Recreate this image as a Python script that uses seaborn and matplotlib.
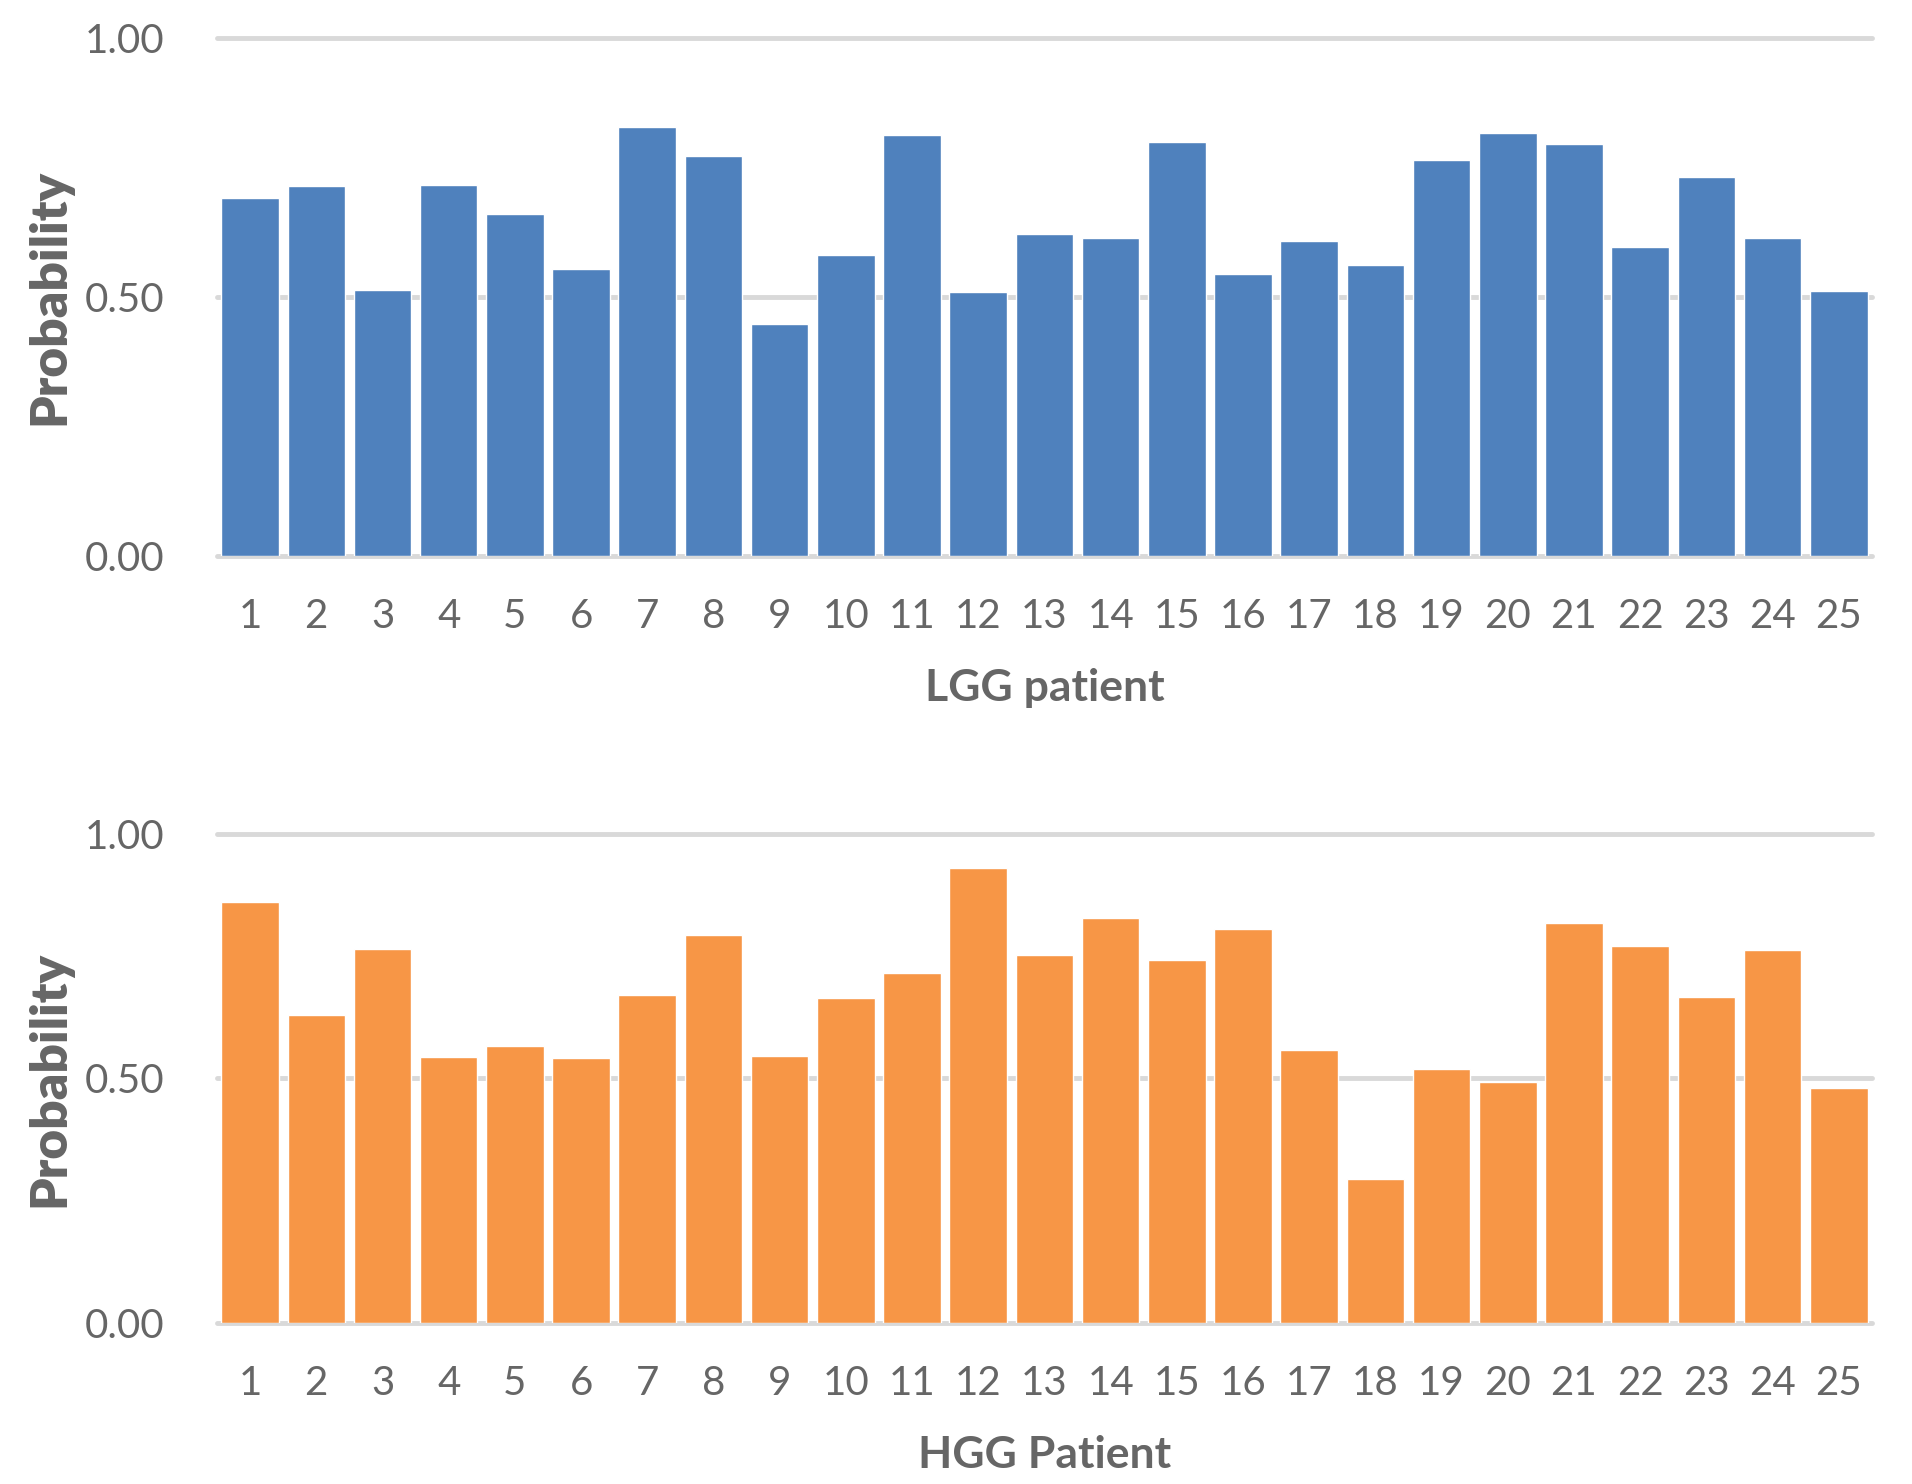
import numpy as np
import pandas as pd
import seaborn as sns
import matplotlib.pyplot as plt

# probabilities
patients = [str(i) for i in range(1, 26)]
lgg_prob = [0.692, 0.715, 0.513, 0.717, 0.660, 0.555, 0.829, 0.773, 0.447, 0.581,
            0.813, 0.510, 0.622, 0.613, 0.799, 0.545, 0.609, 0.561, 0.765, 0.817,
            0.796, 0.596, 0.732, 0.614, 0.512]
hgg_prob = [0.860, 0.630, 0.764, 0.544, 0.567, 0.542, 0.670, 0.794, 0.545, 0.665,
            0.715, 0.931, 0.753, 0.829, 0.742, 0.805, 0.558, 0.295, 0.519, 0.493,
            0.819, 0.770, 0.667, 0.762, 0.481]
y_ticks = [0.0, 0.5, 1.0]

sns.set_style("white")
plt.rcParams['font.family'] = ['Lato', 'DejaVu Sans']
text_col = '#666666'
grid_col = '#d9d9d9'

fig = plt.figure(figsize=(19.12, 14.84), dpi=100)
ax_top = fig.add_axes([0.1135, 0.6253, 0.8655, 0.3491])
ax_bot = fig.add_axes([0.1135, 0.1085, 0.8655, 0.3295])

panels = [
    (ax_top, lgg_prob, '#4f81bd', 'LGG patient'),
    (ax_bot, hgg_prob, '#f79646', 'HGG Patient'),
]

for ax, probs, colour, xlab in panels:
    df = pd.DataFrame({'patient': patients, 'prob': probs})
    sns.barplot(data=df, x='patient', y='prob', color=colour, saturation=1,
                width=0.87, edgecolor='white', linewidth=1, ax=ax, zorder=3)
    ax.set_xlim(-0.5, len(patients) - 0.5)
    ax.set_ylim(0, 1.0)
    ax.set_yticks(y_ticks)
    ax.set_yticklabels(['%.2f' % t for t in y_ticks])
    # gridlines
    for t in y_ticks:
        ax.axhline(t, color=grid_col, linewidth=3.5, zorder=1, clip_on=False)
    for s in ax.spines.values():
        s.set_visible(False)
    ax.tick_params(axis='both', length=0, labelsize=29, colors=text_col)
    ax.tick_params(axis='y', pad=38)
    ax.tick_params(axis='x', pad=30)
    ax.set_ylabel('Probability', fontsize=37, fontweight='heavy', color=text_col,
                  labelpad=9)
    ax.set_xlabel(xlab, fontsize=32, fontweight='bold', color=text_col, labelpad=24)

fig.savefig('out.png', dpi=100)
